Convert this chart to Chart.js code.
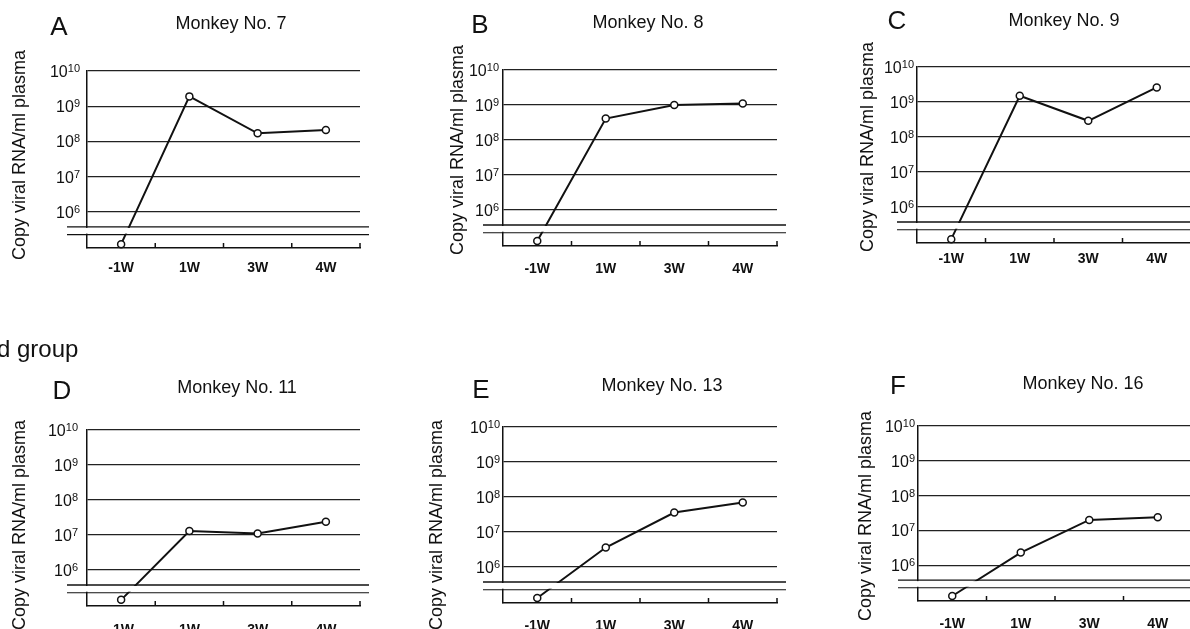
<!DOCTYPE html>
<html>
<head>
<meta charset="utf-8">
<script src="https://cdn.jsdelivr.net/npm/chart.js@4.4.1/dist/chart.umd.min.js"></script>
<style>
html, body { margin: 0; padding: 0; background: #fff; width: 1190px; height: 629px; overflow: hidden; }
.panel { position: absolute; }
</style>
</head>
<body>
<script>
// data (copies of viral RNA per ml plasma)
const weeks = ['-1W', '1W', '3W', '4W'];
const yTickExps = [6, 7, 8, 9, 10];
const monkey7 = [1.2e5, 1.9e9, 1.7e8, 2.1e8];
const monkey8 = [1.3e5, 4.1e8, 1.0e9, 1.1e9];
const monkey9 = [1.2e5, 1.5e9, 2.9e8, 2.6e9];
const monkey11 = [1.4e5, 1.3e7, 1.1e7, 2.4e7];
const monkey13 = [1.3e5, 3.6e6, 3.6e7, 7.0e7];
const monkey16 = [1.3e5, 2.3e6, 2.0e7, 2.4e7];

// axis range in log10 units, and where the axis is broken
const yMinExp = 4.97;
const yMaxExp = 10;
const axisBreak = [5.35, 5.57];

const ink = '#111';
const family = '"Liberation Sans", Arial, Helvetica, sans-serif';

// page layout, in page pixels: box = canvas, area = plot area (left, top, right, bottom)
const panels = [
    { letter: 'A', title: 'Monkey No. 7', values: monkey7, box: [0, 0, 400, 300], area: [87, 71, 360, 248],
      letterAt: [59, 28], titleAt: [231, 24], yTitleAt: [20, 155], tickPad: 7, labelPad: 4 },
    { letter: 'B', title: 'Monkey No. 8', values: monkey8, box: [420, 0, 380, 300], area: [503, 70, 777, 246],
      letterAt: [480, 26], titleAt: [648, 23], yTitleAt: [458, 150], tickPad: 4, labelPad: 7 },
    { letter: 'C', title: 'Monkey No. 9', values: monkey9, box: [840, 0, 360, 300], area: [917, 67, 1191, 243],
      letterAt: [897, 22], titleAt: [1064, 21], yTitleAt: [868, 147], tickPad: 3, labelPad: 0 },
    { letter: 'D', title: 'Monkey No. 11', values: monkey11, box: [0, 320, 400, 340], area: [87, 430, 360, 606],
      letterAt: [62, 392], titleAt: [237, 388], yTitleAt: [20, 525], tickPad: 9, labelPad: 8,
      extra: { text: 'd group', at: [-3, 357] } },
    { letter: 'E', title: 'Monkey No. 13', values: monkey13, box: [420, 320, 380, 340], area: [503, 427, 777, 603],
      letterAt: [481, 391], titleAt: [662, 386], yTitleAt: [437, 525], tickPad: 3, labelPad: 7 },
    { letter: 'F', title: 'Monkey No. 16', values: monkey16, box: [840, 320, 360, 340], area: [918, 426, 1192, 601],
      letterAt: [898, 387], titleAt: [1083, 384], yTitleAt: [866, 516], tickPad: 3, labelPad: 7 }
];

// power-of-ten tick labels, axis break, inward ticks and the panel texts
const panelDecor = {
    id: 'panelDecor',
    afterDraw(chart) {
        const p = chart.config.options.panel;
        const { ctx, chartArea: a, scales: { x, y } } = chart;
        const ox = p.box[0], oy = p.box[1];
        ctx.save();

        ctx.fillStyle = ink;
        ctx.textAlign = 'right';
        ctx.textBaseline = 'alphabetic';
        y.ticks.forEach(t => {
            const py = y.getPixelForValue(t.value);
            const right = a.left - p.tickPad;
            const exp = String(t.value);
            ctx.font = '11px ' + family;
            const expWidth = ctx.measureText(exp).width;
            ctx.fillText(exp, right, py + 1);
            ctx.font = '16px ' + family;
            ctx.fillText('10', right - expWidth, py + 6);
        });

        const yLow = y.getPixelForValue(axisBreak[0]);
        const yHigh = y.getPixelForValue(axisBreak[1]);
        ctx.fillStyle = '#fff';
        ctx.fillRect(a.left - 4, yHigh + 1, a.right - a.left + 8, yLow - yHigh - 2);
        ctx.strokeStyle = ink;
        ctx.lineWidth = 1.4;
        ctx.beginPath();
        ctx.moveTo(a.left - 20, yHigh);
        ctx.lineTo(a.right + 9, yHigh);
        ctx.stroke();
        ctx.lineWidth = 1.1;
        ctx.beginPath();
        ctx.moveTo(a.left - 20, yLow);
        ctx.lineTo(a.right + 9, yLow);
        ctx.stroke();

        ctx.lineWidth = 1.5;
        for (let i = 1; i <= weeks.length; i++) {
            const px = i < weeks.length ? (x.getPixelForTick(i - 1) + x.getPixelForTick(i)) / 2 : a.right;
            ctx.beginPath();
            ctx.moveTo(px, a.bottom);
            ctx.lineTo(px, a.bottom - 5);
            ctx.stroke();
        }

        ctx.fillStyle = ink;
        ctx.textAlign = 'center';
        ctx.textBaseline = 'middle';
        ctx.font = '26px ' + family;
        ctx.fillText(p.letter, p.letterAt[0] - ox, p.letterAt[1] - oy);
        ctx.font = '18px ' + family;
        ctx.fillText(p.title, p.titleAt[0] - ox, p.titleAt[1] - oy);

        if (p.extra) {
            ctx.textAlign = 'left';
            ctx.textBaseline = 'alphabetic';
            ctx.font = '24px ' + family;
            ctx.fillText(p.extra.text, p.extra.at[0] - ox, p.extra.at[1] - oy);
        }

        ctx.translate(p.yTitleAt[0] - ox, p.yTitleAt[1] - oy);
        ctx.rotate(-Math.PI / 2);
        ctx.textAlign = 'center';
        ctx.textBaseline = 'middle';
        ctx.font = '18px ' + family;
        ctx.fillText('Copy viral RNA/ml plasma', 0, 0);
        ctx.restore();
    }
};

function drawPanel(p) {
    const [bx, by, bw, bh] = p.box;
    const [left, top, right, bottom] = p.area;

    const holder = document.createElement('div');
    holder.className = 'panel';
    holder.style.left = bx + 'px';
    holder.style.top = by + 'px';
    holder.style.width = bw + 'px';
    holder.style.height = bh + 'px';
    const canvas = document.createElement('canvas');
    holder.appendChild(canvas);
    document.body.appendChild(holder);

    new Chart(canvas.getContext('2d'), {
        type: 'line',
        data: {
            labels: weeks,
            datasets: [{
                data: p.values.map(v => Math.log10(v)),
                borderColor: ink,
                borderWidth: 2,
                tension: 0,
                pointRadius: 3.5,
                pointBorderWidth: 1.5,
                pointBorderColor: ink,
                pointBackgroundColor: '#fff',
                clip: false
            }]
        },
        options: {
            panel: p,
            animation: false,
            responsive: true,
            maintainAspectRatio: false,
            events: [],
            layout: { padding: { left: 0, top: top - by, right: bx + bw - right, bottom: 0 } },
            plugins: { legend: { display: false }, tooltip: { enabled: false } },
            scales: {
                x: {
                    type: 'category',
                    offset: true,
                    grid: { display: false },
                    border: { display: true, color: ink, width: 1.5 },
                    ticks: {
                        color: ink,
                        font: { family: family, size: 14, weight: 'bold' },
                        padding: p.labelPad,
                        maxRotation: 0,
                        autoSkip: false
                    },
                    afterFit: s => { s.height = by + bh - bottom; }
                },
                y: {
                    min: yMinExp,
                    max: yMaxExp,
                    grid: { color: '#222', lineWidth: 1.2, drawTicks: false },
                    border: { display: true, color: ink, width: 1.5 },
                    afterBuildTicks: s => { s.ticks = yTickExps.map(v => ({ value: v })); },
                    ticks: { display: false },
                    afterFit: s => { s.width = left - bx; }
                }
            }
        },
        plugins: [panelDecor]
    });
}

panels.forEach(drawPanel);
</script>
</body>
</html>
